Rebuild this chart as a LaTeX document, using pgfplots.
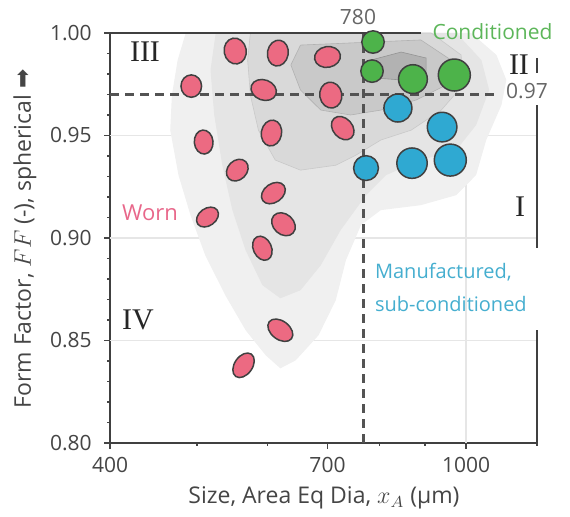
\documentclass[border=0pt]{standalone}
\usepackage{fontspec}
\setmainfont{Open Sans}
\newfontfamily\serifnum{Liberation Serif}
\newfontfamily\djv{DejaVu Sans}
\usepackage{pgfplots}
\pgfplotsset{compat=1.18}
\definecolor{worn}{HTML}{EC6A82}
\definecolor{cond}{HTML}{4DB34A}
\definecolor{manu}{HTML}{2FA9D2}
\definecolor{edge}{HTML}{404040}
\definecolor{wornT}{HTML}{E8678A}
\definecolor{condT}{HTML}{5DB65A}
\definecolor{manuT}{HTML}{45AECF}
\definecolor{tickc}{HTML}{454545}
\definecolor{gridc}{HTML}{E6E6E6}
\pgfplotsset{wm/.style n args={3}{only marks, mark=*, mark size=#1, mark options={fill=worn, draw=edge, line width=0.75pt, rotate=#2, xscale=#3}}}
\begin{document}
\begin{tikzpicture}
\useasboundingbox (-55pt,-37pt) rectangle (230pt,221.5pt);
\begin{axis}[
 at={(0,0)}, anchor=south west,
 scale only axis, width=213.5pt, height=205pt,
 xmode=log, log basis x=10, xmin=400, xmax=1200, ymin=0.80, ymax=1.00,
 axis x line*=bottom, axis y line*=left,
 axis line style={edge, line width=1pt},
 xtick={400,700,1000}, xticklabels={400,700,1000},
 minor xtick={500,600,800,900,1200},
 ytick={0.80,0.85,0.90,0.95,1.00},
 yticklabels={0.80,0.85,0.90,0.95,1.00},
 minor ytick={0.81,0.82,0.83,0.84,0.86,0.87,0.88,0.89,0.91,0.92,0.93,0.94,0.96,0.97,0.98,0.99},
 tick align=outside,
 major tick length=3pt, minor tick length=1.5pt,
 tick style={tickc, line width=0.8pt},
 ticklabel style={font=\fontsize{10.5}{12}\selectfont, text=tickc},
 yticklabel style={anchor=east, inner sep=0pt, xshift=-6pt},
 xticklabel style={anchor=north, inner sep=0pt, yshift=-4pt},
 clip=false,
]
% grid
\draw[gridc, line width=0.7pt] (axis cs:400,0.95) -- (axis cs:1200,0.95);
\draw[gridc, line width=0.7pt] (axis cs:400,0.90) -- (axis cs:1200,0.90);
\draw[gridc, line width=0.7pt] (axis cs:400,0.85) -- (axis cs:1200,0.85);
\draw[gridc, line width=0.7pt] (axis cs:1000,0.80) -- (axis cs:1000,1.00);
% density contours
\addplot[fill=black!6, draw=none] coordinates {
(486,1.000) (1013,1.000) (1081,0.9893) (1109,0.9771) (1095,0.9648) (1053,0.9478)
(1026,0.9307) (975,0.9209) (890,0.9160) (803,0.9136) (763,0.9063) (734,0.8892)
(715,0.8696) (684,0.8525) (645,0.8403) (620,0.8364) (597,0.8428) (567,0.8550)
(538,0.8721) (511,0.8916) (492,0.9111) (477,0.9307) (467,0.9526) (469,0.9697) (476,0.9868)
} -- cycle;
\addplot[fill=black!10, draw=none] coordinates {
(525,1.000) (975,1.000) (1040,0.9868) (1061,0.9722) (1026,0.9551) (975,0.9429)
(890,0.9380) (814,0.9307) (773,0.9209) (724,0.9038) (688,0.8867) (653,0.8745)
(620,0.8706) (592,0.8770) (567,0.8940) (548,0.9136) (534,0.9355) (523,0.9600) (518,0.9819)
} -- cycle;
\addplot[fill=black!15, draw=black!21, line width=0.3pt] coordinates {
(574,1.000) (914,1.000) (987,0.9893) (992,0.9746) (938,0.9624) (868,0.9526)
(803,0.9478) (753,0.9404) (715,0.9355) (653,0.9331) (612,0.9380) (586,0.9526)
(574,0.9697) (570,0.9868)
} -- cycle;
\addplot[fill=black!21, draw=black!30, line width=0.3pt] coordinates {
(653,0.9941) (890,0.9966) (962,0.9868) (950,0.9746) (879,0.9673) (803,0.9624)
(743,0.9600) (688,0.9624) (653,0.9722) (637,0.9844)
} -- cycle;
\addplot[fill=black!30, draw=black!42, line width=0.3pt] coordinates {
(783,0.9868) (846,0.9907) (902,0.9878) (902,0.9810) (846,0.9771) (793,0.9780)
} -- cycle;
% reference lines
\draw[edge!90, line width=1.2pt, dash pattern=on 4.5pt off 3pt] (axis cs:400,0.97) -- (axis cs:1088,0.97);
\draw[edge!90, line width=1.2pt, dash pattern=on 4.5pt off 3pt] (axis cs:768,0.80) -- (axis cs:768,1.00);
% worn particles
\addplot[wm={6.5pt}{10}{0.85}] coordinates {(552,0.9912)};
\addplot[wm={6.5pt}{-10}{0.8}] coordinates {(616,0.9902)};
\addplot[wm={6.5pt}{-80}{0.8}] coordinates {(700,0.9883)};
\addplot[wm={5.6pt}{0}{0.92}] coordinates {(493,0.9741)};
\addplot[wm={6.5pt}{70}{0.78}] coordinates {(594,0.9722)};
\addplot[wm={6.5pt}{10}{0.85}] coordinates {(706,0.9697)};
\addplot[wm={6.5pt}{42}{0.75}] coordinates {(728,0.9536)};
\addplot[wm={6.5pt}{-10}{0.78}] coordinates {(606,0.9512)};
\addplot[wm={6pt}{5}{0.78}] coordinates {(509,0.9468)};
\addplot[wm={6pt}{-45}{0.8}] coordinates {(555,0.9331)};
\addplot[wm={6.5pt}{-55}{0.72}] coordinates {(609,0.9219)};
\addplot[wm={6pt}{-54}{0.72}] coordinates {(514,0.9102)};
\addplot[wm={6.5pt}{48}{0.78}] coordinates {(625,0.9067)};
\addplot[wm={6.3pt}{25}{0.72}] coordinates {(592,0.8950)};
\addplot[wm={7pt}{53}{0.66}] coordinates {(620,0.8550)};
\addplot[wm={6.8pt}{-35}{0.66}] coordinates {(564,0.8379)};
% conditioned
\addplot[only marks, mark=*, mark size=5.6pt, mark options={fill=cond, draw=edge, line width=0.75pt}] coordinates {(787,0.9956) (785,0.9814)};
\addplot[only marks, mark=*, mark size=7.2pt, mark options={fill=cond, draw=edge, line width=0.75pt}] coordinates {(872,0.9775)};
\addplot[only marks, mark=*, mark size=8pt, mark options={fill=cond, draw=edge, line width=0.75pt}] coordinates {(970,0.9795)};
% manufactured, sub-conditioned
\addplot[only marks, mark=*, mark size=7pt, mark options={fill=manu, draw=edge, line width=0.75pt}] coordinates {(839,0.9634)};
\addplot[only marks, mark=*, mark size=7.4pt, mark options={fill=manu, draw=edge, line width=0.75pt}] coordinates {(940,0.9541)};
\addplot[only marks, mark=*, mark size=6.2pt, mark options={fill=manu, draw=edge, line width=0.75pt}] coordinates {(773,0.9341)};
\addplot[only marks, mark=*, mark size=7.6pt, mark options={fill=manu, draw=edge, line width=0.75pt}] coordinates {(870,0.9365)};
\addplot[only marks, mark=*, mark size=8pt, mark options={fill=manu, draw=edge, line width=0.75pt}] coordinates {(960,0.9380)};
% broken frame
\draw[edge, line width=1pt] (axis cs:400,1.00) -- (axis cs:890,1.00);
\draw[edge, line width=1pt] (axis cs:1200,0.9878) -- (axis cs:1200,0.9805);
\draw[edge, line width=1pt] (axis cs:1200,0.9648) -- (axis cs:1200,0.8950);
\draw[edge, line width=1pt] (axis cs:1200,0.8550) -- (axis cs:1200,0.80);
\end{axis}
% labels
\node[rotate=90, font=\fontsize{11.5}{13}\selectfont, text=tickc] at (-42.5pt,102pt) {Form Factor, $FF$ (-), spherical {\djv ➡}};
\node[font=\fontsize{11.5}{13}\selectfont, text=tickc] at (107pt,-27.5pt) {Size, Area Eq Dia, $x_A$ (µm)};
\node[font=\serifnum\fontsize{15}{15}\selectfont, text=black!85] at (17.5pt,195.5pt) {III};
\node[font=\serifnum\fontsize{15}{15}\selectfont, text=black!85] at (204.5pt,189pt) {II};
\node[font=\serifnum\fontsize{15}{15}\selectfont, text=black!85] at (205pt,118pt) {I};
\node[font=\serifnum\fontsize{15}{15}\selectfont, text=black!85] at (14pt,61.5pt) {IV};
\node[font=\fontsize{11}{13}\selectfont, text=wornT] at (20pt,115pt) {Worn};
\node[font=\fontsize{10.5}{12}\selectfont, text=condT] at (191.25pt,205.5pt) {Conditioned};
\node[font=\fontsize{10.5}{12}\selectfont, text=black!60] at (124pt,213pt) {780};
\node[font=\fontsize{10.5}{12}\selectfont, text=black!60] at (208.5pt,176pt) {0.97};
\node[font=\fontsize{10}{16.5}\selectfont, text=manuT, anchor=west, align=left] at (129pt,78pt) {Manufactured,\\sub-conditioned};
\end{tikzpicture}
\end{document}
